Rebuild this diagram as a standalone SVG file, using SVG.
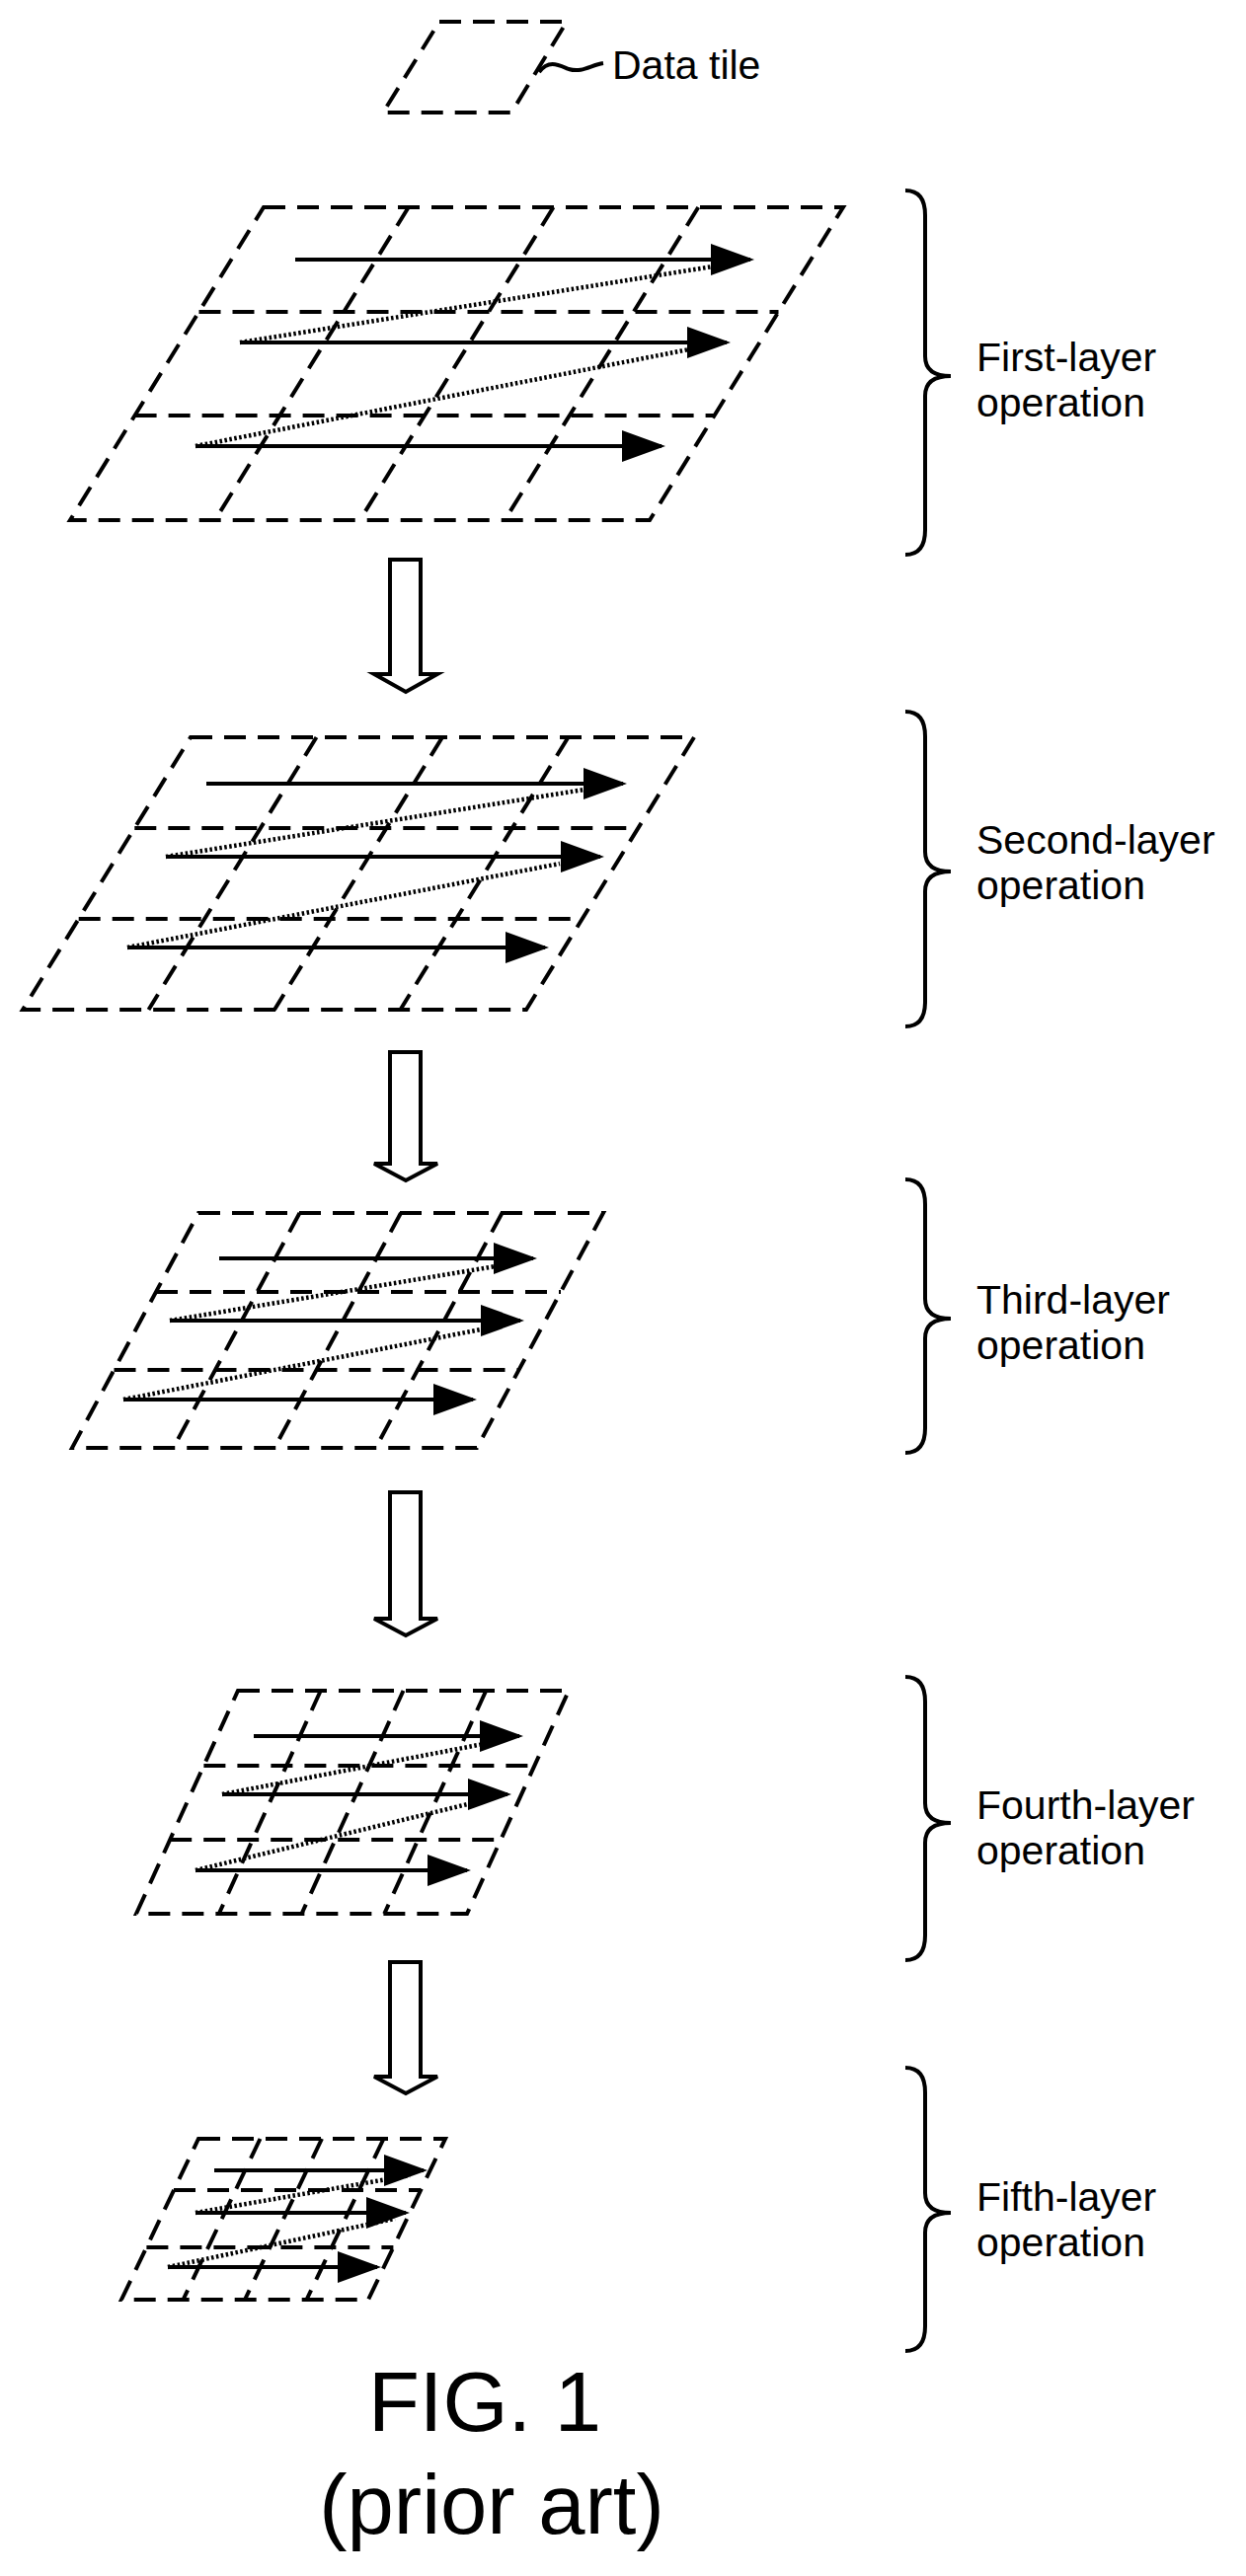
<svg xmlns="http://www.w3.org/2000/svg" width="1262" height="2610" viewBox="0 0 1262 2610">
<style>
.g{fill:none;stroke:#000;stroke-width:4;stroke-dasharray:22 12}
.a{stroke:#000;stroke-width:4;marker-end:url(#ah)}
.d{stroke:#000;stroke-width:4.5;stroke-dasharray:2.5 2.5}
.h{fill:#fff;stroke:#000;stroke-width:4}
.b{fill:none;stroke:#000;stroke-width:4}
text{font-family:"Liberation Sans",Arial,sans-serif;fill:#000}
.l{font-size:41px}
.f{font-size:85px;text-anchor:middle}
</style>
<defs>
<marker id="ah" markerUnits="strokeWidth" markerWidth="11" markerHeight="8" refX="10" refY="4" orient="auto"><path d="M0,0 L11,4 L0,8 z" fill="#000"/></marker>
</defs>
<rect width="1262" height="2610" fill="#fff"/>
<g id="datatile">
<polygon class="g" points="445,22 574,22 518,114 388,114"/>
<path class="b" stroke-width="3" d="M546,73 C556,60 566,66 576,70 C590,74 598,66 611,64"/>
<text class="l" x="620" y="80">Data tile</text>
</g>
<g id="layer1">
<polygon class="g" points="267,210 854,210 658,527 71,527"/>
<path class="g" d="M413.75,210 L217.75,527 M560.5,210 L364.5,527 M707.25,210 L511.25,527 M201.5,316 L788.5,316 M136.6,421 L723.6,421"/>
<line class="a" x1="299" y1="263" x2="760" y2="263"/>
<line class="a" x1="243" y1="347" x2="736" y2="347"/>
<line class="a" x1="198" y1="452" x2="670" y2="452"/>
<line class="d" x1="243" y1="347" x2="722" y2="270"/>
<line class="d" x1="198" y1="452" x2="698" y2="354"/>
<path class="b" d="M917,193 Q937,193 937,218 L937,361 Q937,381 963,381 Q937,381 937,401 L937,537 Q937,562 917,562"/>
<text class="l" x="989" y="376">First-layer</text>
<text class="l" x="989" y="422">operation</text>
</g>
<g id="layer2">
<polygon class="g" points="193,747 703,747 533,1023 23,1023"/>
<path class="g" d="M320.5,747 L150.5,1023 M448,747 L278,1023 M575.5,747 L405.5,1023 M136.3,839 L646.3,839 M79.7,931 L589.7,931"/>
<line class="a" x1="209" y1="794" x2="631" y2="794"/>
<line class="a" x1="168" y1="868" x2="608" y2="868"/>
<line class="a" x1="129" y1="960" x2="552" y2="960"/>
<line class="d" x1="168" y1="868" x2="592" y2="800"/>
<line class="d" x1="129" y1="960" x2="567" y2="875"/>
<path class="b" d="M917,721 Q937,721 937,746 L937,863 Q937,883 963,883 Q937,883 937,903 L937,1015 Q937,1040 917,1040"/>
<text class="l" x="989" y="865">Second-layer</text>
<text class="l" x="989" y="911">operation</text>
</g>
<g id="layer3">
<polygon class="g" points="201,1229 611,1229 483,1467 73,1467"/>
<path class="g" d="M303.5,1229 L175.5,1467 M406,1229 L278,1467 M508.5,1229 L380.5,1467 M158,1309 L568,1309 M115.5,1388 L525.5,1388"/>
<line class="a" x1="222" y1="1275" x2="540" y2="1275"/>
<line class="a" x1="172" y1="1338" x2="527" y2="1338"/>
<line class="a" x1="125" y1="1418" x2="479" y2="1418"/>
<line class="d" x1="172" y1="1338" x2="502" y2="1283"/>
<line class="d" x1="125" y1="1418" x2="492" y2="1346"/>
<path class="b" d="M917,1195 Q937,1195 937,1220 L937,1316 Q937,1336 963,1336 Q937,1336 937,1356 L937,1447 Q937,1472 917,1472"/>
<text class="l" x="989" y="1331">Third-layer</text>
<text class="l" x="989" y="1377">operation</text>
</g>
<g id="layer4">
<polygon class="g" points="241,1713 576,1713 473,1939 138,1939"/>
<path class="g" d="M324.75,1713 L221.75,1939 M408.5,1713 L305.5,1939 M492.25,1713 L389.25,1939 M206.4,1789 L541.4,1789 M172.2,1864 L507.2,1864"/>
<line class="a" x1="257" y1="1759" x2="526" y2="1759"/>
<line class="a" x1="225" y1="1818" x2="514" y2="1818"/>
<line class="a" x1="198" y1="1895" x2="473" y2="1895"/>
<line class="d" x1="225" y1="1818" x2="500" y2="1765"/>
<line class="d" x1="198" y1="1895" x2="490" y2="1824"/>
<path class="b" d="M917,1699 Q937,1699 937,1724 L937,1827 Q937,1847 963,1847 Q937,1847 937,1867 L937,1961 Q937,1986 917,1986"/>
<text class="l" x="989" y="1843">Fourth-layer</text>
<text class="l" x="989" y="1889">operation</text>
</g>
<g id="layer5">
<polygon class="g" points="201,2167 451,2167 373,2330 123,2330"/>
<path class="g" d="M263.5,2167 L185.5,2330 M326,2167 L248,2330 M388.5,2167 L310.5,2330 M176,2219 L426,2219 M148.4,2277 L398.4,2277"/>
<line class="a" x1="217" y1="2199" x2="429" y2="2199"/>
<line class="a" x1="198" y1="2242" x2="411" y2="2242"/>
<line class="a" x1="170" y1="2297" x2="382" y2="2297"/>
<line class="d" x1="198" y1="2242" x2="415" y2="2204"/>
<line class="d" x1="170" y1="2297" x2="400" y2="2248"/>
<path class="b" d="M917,2095 Q937,2095 937,2120 L937,2222 Q937,2242 963,2242 Q937,2242 937,2262 L937,2357 Q937,2382 917,2382"/>
<text class="l" x="989" y="2240">Fifth-layer</text>
<text class="l" x="989" y="2286">operation</text>
</g>
<g id="connectors">
<polygon class="h" points="395,567 426,567 426,683 443,683 411,701 379,683 395,683"/>
<polygon class="h" points="395,1066 426,1066 426,1179 443,1179 411,1196 379,1179 395,1179"/>
<polygon class="h" points="395,1512 426,1512 426,1640 443,1640 411,1657 379,1640 395,1640"/>
<polygon class="h" points="395,1988 426,1988 426,2104 443,2104 411,2121 379,2104 395,2104"/>
</g>
<g id="caption">
<text class="f" x="491" y="2463">FIG. 1</text>
<text class="f" x="498" y="2567">(prior art)</text>
</g>
</svg>
